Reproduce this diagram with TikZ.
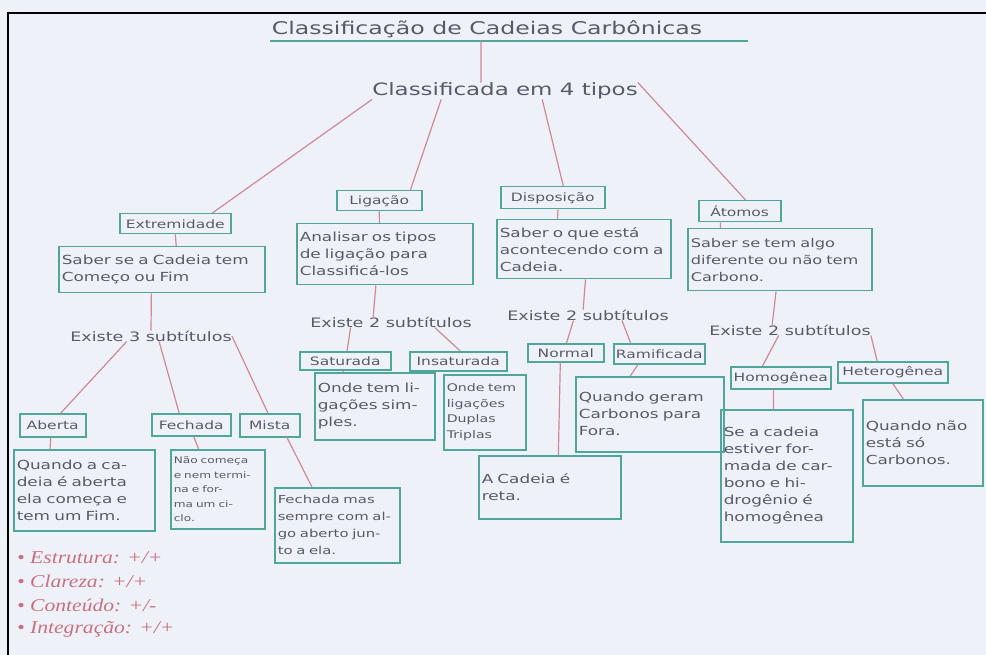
\documentclass[tikz,border=0pt]{standalone}
\usepackage{fontspec}
\usetikzlibrary{calc}
\newfontfamily\hand[FakeStretch=1.35]{DejaVu Sans}
\newfontfamily\gradefont[FakeStretch=1.2]{Liberation Serif}
\definecolor{paper}{HTML}{EEF2F8}
\definecolor{boxc}{HTML}{4FA79B}
\definecolor{linkc}{HTML}{D0879A}
\definecolor{inkc}{HTML}{585A6A}
\definecolor{gradec}{HTML}{C9707F}
\begin{document}
\begin{tikzpicture}[x=1pt,y=-1pt,
  every node/.style={text=inkc, inner sep=0pt},
  lab/.style={draw=boxc, line width=1.5pt, anchor=north west, align=center,
    font=\hand\fontsize{11.5}{14}\selectfont},
  desc/.style={draw=boxc, line width=1.5pt, anchor=north west, align=left,
    inner xsep=3pt, font=\hand\fontsize{12.5}{17}\selectfont},
  plain/.style={font=\hand\fontsize{13}{15}\selectfont},
  link/.style={draw=linkc, line width=1.2pt},
  grade/.style={anchor=west, text=gradec, font=\gradefont\itshape\fontsize{18}{20}\selectfont},
]
\useasboundingbox (0,0) rectangle (986,655);
\fill[paper] (0,0) rectangle (986,655);
\draw[black, line width=2pt] (986,13) -- (8,13) -- (8,655);

% title and its underline
\node[font=\hand\fontsize{17.5}{20}\selectfont] (title) at (487,29) {Classificação de Cadeias Carbônicas};
\coordinate (ulL) at (270,41);
\coordinate (ulR) at (748,41);
\coordinate (ulM) at (481,41);
\draw[boxc, line width=1.3pt] (ulL) -- (ulR);

\node[font=\hand\fontsize{17}{19}\selectfont] (sub) at (505,91) {Classificada em 4 tipos};

% first level: the four criteria
\node[lab, minimum width=111pt, minimum height=20pt] (ext) at (119,213) {Extremidade};
\node[lab, minimum width=85pt, minimum height=20pt] (lig) at (336,190) {Ligação};
\node[lab, minimum width=104pt, minimum height=22pt] (dis) at (500,186) {Disposição};
\node[lab, minimum width=82pt, minimum height=21pt] (ato) at (698,200) {Átomos};

\node[desc, text width=200pt, minimum height=46pt] (extd) at (58,246)
  {Saber se a Cadeia tem\\Começo ou Fim};
\node[desc, text width=170pt, minimum height=61pt] (ligd) at (296,223)
  {Analisar os tipos\\de ligação para\\Classificá-los};
\node[desc, text width=168pt, minimum height=59pt] (disd) at (496,219)
  {Saber o que está\\acontecendo com a\\Cadeia.};
\node[desc, font=\hand\fontsize{12}{17}\selectfont, text width=178pt, minimum height=62pt] (atod) at (687,228)
  {Saber se tem algo\\diferente ou não tem\\Carbono.};

% "Existe ... subtítulos"
\node[plain] (ex1) at (151,336) {Existe 3 subtítulos};
\node[plain] (ex2) at (391,322) {Existe 2 subtítulos};
\node[plain] (ex3) at (588,315) {Existe 2 subtítulos};
\node[plain] (ex4) at (790,330) {Existe 2 subtítulos};

% second level
\node[lab, minimum width=66pt, minimum height=23pt] (abe) at (19,413) {Aberta};
\node[lab, minimum width=79pt, minimum height=22pt] (fec) at (151,413) {Fechada};
\node[lab, minimum width=60pt, minimum height=23pt] (mis) at (239,413) {Mista};
\node[lab, minimum width=91pt, minimum height=18pt] (sat) at (299,351) {Saturada};
\node[lab, minimum width=97pt, minimum height=19pt] (ins) at (409,351) {Insaturada};
\node[lab, minimum width=76pt, minimum height=18pt] (nor) at (527,343) {Normal};
\node[lab, minimum width=91pt, minimum height=20pt] (ram) at (613,343) {Ramificada};
\node[lab, minimum width=100pt, minimum height=22pt] (hom) at (730,366) {Homogênea};
\node[lab, minimum width=110pt, minimum height=21pt] (het) at (837,361) {Heterogênea};

\node[desc, text width=135pt, minimum height=81pt] (abed) at (13,449)
  {Quando a ca-\\deia é aberta\\ela começa e\\tem um Fim.};
\node[desc, font=\hand\fontsize{9}{14.5}\selectfont, text width=88pt, minimum height=79pt] (fecd) at (170,449)
  {Não começa\\e nem termi-\\na e for-\\ma um ci-\\clo.};
\node[desc, font=\hand\fontsize{11}{17}\selectfont, text width=119pt, minimum height=75pt] (misd) at (274,487)
  {Fechada mas\\sempre com al-\\go aberto jun-\\to a ela.};
\node[desc, text width=114pt, minimum height=67pt] (satd) at (314,372)
  {Onde tem li-\\gações sim-\\ples.};
\node[desc, font=\hand\fontsize{10.5}{15.5}\selectfont, text width=76pt, minimum height=75pt] (insd) at (443,374)
  {Onde tem\\ligações\\Duplas\\Triplas};
\node[desc, text width=142pt, minimum height=75pt] (ramd) at (575,376)
  {Quando geram\\Carbonos para\\Fora.};
\node[desc, text width=136pt, minimum height=63pt] (nord) at (478,455)
  {A Cadeia é\\reta.};
\node[desc, text width=126pt, minimum height=132pt] (homd) at (720,409)
  {Se a cadeia\\estiver for-\\mada de car-\\bono e hi-\\drogênio é\\homogênea};
\node[desc, text width=114pt, minimum height=86pt] (hetd) at (862,399)
  {Quando não\\está só\\Carbonos.};

% connectors
\draw[link] (ulM) -- ($(sub.north west)!0.41!(sub.north east)$);
\draw[link] (sub.south west) -- ($(ext.north west)!0.83!(ext.north east)$);
\draw[link] ($(sub.south west)!0.26!(sub.south east)$) -- ($(lig.north west)!0.86!(lig.north east)$);
\draw[link] ($(sub.south west)!0.64!(sub.south east)$) -- ($(dis.north west)!0.6!(dis.north east)$);
\draw[link] (sub.north east) -- ($(ato.north west)!0.57!(ato.north east)$);

\draw[link] ($(ext.south west)!0.5!(ext.south east)$) -- ($(extd.north west)!0.57!(extd.north east)$);
\draw[link] ($(extd.south west)!0.45!(extd.south east)$) -- ($(ex1.north west)!0.5!(ex1.north east)$);
\draw[link] ($(ex1.south west)!0.35!(ex1.south east)$) -- ($(abe.north west)!0.62!(abe.north east)$);
\draw[link] ($(ex1.south west)!0.55!(ex1.south east)$) -- ($(fec.north west)!0.35!(fec.north east)$);
\draw[link] (ex1.east) -- ($(mis.north west)!0.47!(mis.north east)$);
\draw[link] ($(abe.south west)!0.47!(abe.south east)$) -- ($(abed.north west)!0.26!(abed.north east)$);
\draw[link] ($(fec.south west)!0.53!(fec.south east)$) -- ($(fecd.north west)!0.3!(fecd.north east)$);
\draw[link] ($(mis.south west)!0.78!(mis.south east)$) -- ($(misd.north west)!0.3!(misd.north east)$);

\draw[link] ($(lig.south west)!0.5!(lig.south east)$) -- ($(ligd.north west)!0.47!(ligd.north east)$);
\draw[link] ($(ligd.south west)!0.45!(ligd.south east)$) -- ($(ex2.north west)!0.39!(ex2.north east)$);
\draw[link] ($(ex2.south west)!0.25!(ex2.south east)$) -- ($(sat.north west)!0.52!(sat.north east)$);
\draw[link] ($(ex2.south west)!0.77!(ex2.south east)$) -- ($(ins.north west)!0.52!(ins.north east)$);
\draw[link] ($(sat.south west)!0.48!(sat.south east)$) -- ($(satd.north west)!0.24!(satd.north east)$);

\draw[link] ($(dis.south west)!0.55!(dis.south east)$) -- ($(disd.north west)!0.35!(disd.north east)$);
\draw[link] ($(disd.south west)!0.51!(disd.south east)$) -- ($(ex3.north west)!0.47!(ex3.north east)$);
\draw[link] ($(ex3.south west)!0.41!(ex3.south east)$) -- ($(nor.north west)!0.51!(nor.north east)$);
\draw[link] ($(ex3.south west)!0.71!(ex3.south east)$) -- ($(ram.north west)!0.19!(ram.north east)$);
\draw[link] ($(nor.south west)!0.43!(nor.south east)$) -- ($(nord.north west)!0.56!(nord.north east)$);
\draw[link] ($(ram.south west)!0.27!(ram.south east)$) -- ($(ramd.north west)!0.37!(ramd.north east)$);

\draw[link] ($(ato.south west)!0.27!(ato.south east)$) -- ($(atod.north west)!0.18!(atod.north east)$);
\draw[link] ($(atod.south west)!0.48!(atod.south east)$) -- ($(ex4.north west)!0.39!(ex4.north east)$);
\draw[link] ($(ex4.south west)!0.43!(ex4.south east)$) -- ($(hom.north west)!0.32!(hom.north east)$);
\draw[link] (ex4.south east) -- ($(het.north west)!0.36!(het.north east)$);
\draw[link] ($(hom.south west)!0.43!(hom.south east)$) -- ($(homd.north west)!0.4!(homd.north east)$);
\draw[link] ($(het.south west)!0.5!(het.south east)$) -- ($(hetd.north west)!0.34!(hetd.north east)$);

% evaluation notes
\node[grade] (g1) at (17,558) {• Estrutura: +/+};
\node[grade] (g2) at (17,581) {• Clareza: +/+};
\node[grade] (g3) at (17,605) {• Conteúdo: +/-};
\node[grade] (g4) at (17,629) {• Integração: +/+};
\end{tikzpicture}
\end{document}
